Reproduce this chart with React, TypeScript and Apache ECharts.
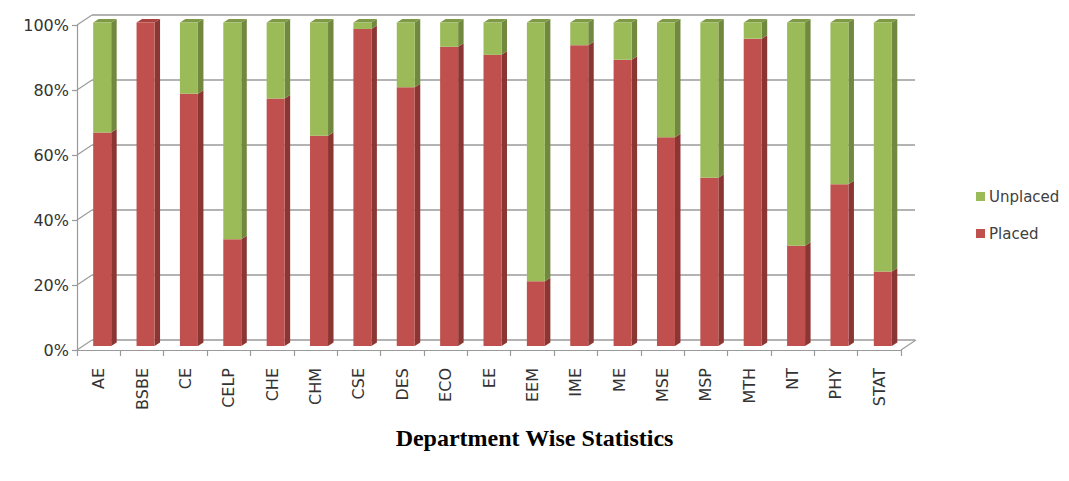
import React, { useEffect, useRef } from "react";
import * as echarts from "echarts";

// Departments along the x axis
const departments = [
  "AE", "BSBE", "CE", "CELP", "CHE", "CHM", "CSE", "DES", "ECO", "EE",
  "EEM", "IME", "ME", "MSE", "MSP", "MTH", "NT", "PHY", "STAT",
];

// Share of students placed, in percent
const placed = [66, 100, 78, 33, 76.5, 65, 98, 80, 92.5, 90, 20, 93, 88.5, 64.5, 52, 95, 31, 50, 23];

// Share of students not placed, in percent
const unplaced = placed.map((p) => 100 - p);

const yTicks = [0, 20, 40, 60, 80, 100];

// Layout of the pseudo-3D box
const BACK = { left: 92, top: 15, width: 823, height: 325 };
const FRONT = { left: 77, top: 25, width: 824, height: 325 };
const BARS = { left: 80.5, top: 22.5, width: 824, height: 323.5 };
const BAR_W = 18;
const DEPTH_X = 5.5;
const DEPTH_Y = 3.5;

const RED = "#C0504D";
const RED_SIDE = "#8C3633";
const RED_TOP = "#A8423F";
const GREEN = "#9BBB59";
const GREEN_SIDE = "#71893F";
const GREEN_TOP = "#7F9A47";
const GRID_GRAY = "#9a9a9a";

export default function App() {
  const ref = useRef<HTMLDivElement>(null);

  useEffect(() => {
    if (!ref.current) return;
    const chart = echarts.init(ref.current, null, { renderer: "svg" });

    const dx = BACK.left - FRONT.left;
    const dy = FRONT.top - BACK.top;
    // Diagonal connectors between the front axis plane and the back wall
    const connectors: any[] = yTicks.map((t) => {
      const y = FRONT.top + FRONT.height * (1 - t / 100);
      return {
        type: "line",
        shape: { x1: FRONT.left, y1: y, x2: FRONT.left + dx, y2: y - dy },
        style: { stroke: GRID_GRAY, lineWidth: 1.2 },
        silent: true,
      };
    });
    const fb = FRONT.top + FRONT.height;
    connectors.push({
      type: "line",
      shape: { x1: FRONT.left + FRONT.width, y1: fb, x2: FRONT.left + FRONT.width + dx, y2: fb - dy },
      style: { stroke: GRID_GRAY, lineWidth: 1.2 },
      silent: true,
    });

    const depthData = placed.map((p, i) => [i, p, unplaced[i]]);

    chart.setOption({
      animation: false,
      backgroundColor: "#ffffff",
      title: {
        text: "Department Wise Statistics",
        left: "center",
        top: 421,
        textStyle: {
          fontFamily: "Liberation Serif",
          fontWeight: "bold",
          fontSize: 24,
          color: "#000000",
        },
      },
      legend: {
        orient: "vertical",
        left: 971,
        top: 184,
        itemWidth: 9,
        itemHeight: 9,
        itemGap: 22,
        icon: "rect",
        data: ["Unplaced", "Placed"],
        textStyle: { fontFamily: "DejaVu Sans", fontSize: 15, color: "#404040", padding: [0, 0, 0, -1] },
      },
      grid: [
        { ...BACK, containLabel: false },
        { ...FRONT, containLabel: false },
        { ...BARS, containLabel: false },
      ],
      xAxis: [
        {
          gridIndex: 0,
          type: "category",
          data: departments,
          show: false,
        },
        {
          gridIndex: 1,
          type: "category",
          data: departments,
          axisLine: { show: true, lineStyle: { color: GRID_GRAY, width: 1.2 } },
          axisTick: { show: true, length: 6, lineStyle: { color: GRID_GRAY, width: 1.2 } },
          axisLabel: {
            rotate: 90,
            margin: 18,
            fontFamily: "DejaVu Sans",
            fontSize: 16,
            color: "#333333",
          },
          splitLine: { show: false },
        },
        {
          gridIndex: 2,
          type: "category",
          data: departments,
          show: false,
        },
      ],
      yAxis: [
        {
          gridIndex: 0,
          type: "value",
          min: 0,
          max: 100,
          interval: 20,
          axisLine: { show: false },
          axisTick: { show: false },
          axisLabel: { show: false },
          splitLine: { show: true, lineStyle: { color: GRID_GRAY, width: 1.5 } },
        },
        {
          gridIndex: 1,
          type: "value",
          min: 0,
          max: 100,
          interval: 20,
          axisLine: { show: true, lineStyle: { color: GRID_GRAY, width: 1.2 } },
          axisTick: { show: true, length: 5, lineStyle: { color: GRID_GRAY, width: 1.2 } },
          axisLabel: {
            formatter: "{value}%",
            margin: 8,
            fontFamily: "DejaVu Sans",
            fontSize: 16,
            color: "#333333",
          },
          splitLine: { show: false },
        },
        {
          gridIndex: 2,
          type: "value",
          min: 0,
          max: 100,
          show: false,
        },
      ],
      series: [
        {
          name: "Placed",
          type: "bar",
          stack: "share",
          xAxisIndex: 2,
          yAxisIndex: 2,
          barWidth: BAR_W,
          data: placed,
          itemStyle: { color: RED },
          z: 3,
        },
        {
          name: "Unplaced",
          type: "bar",
          stack: "share",
          xAxisIndex: 2,
          yAxisIndex: 2,
          barWidth: BAR_W,
          data: unplaced,
          itemStyle: { color: GREEN },
          z: 3,
        },
        {
          name: "depth",
          type: "custom",
          xAxisIndex: 2,
          yAxisIndex: 2,
          silent: true,
          z: 2,
          data: depthData,
          renderItem: (params: any, api: any) => {
            const i = api.value(0);
            const p = api.value(1);
            const base = api.coord([i, 0]);
            const mid = api.coord([i, p]);
            const top = api.coord([i, 100]);
            const xr = base[0] + BAR_W / 2;
            const xl = base[0] - BAR_W / 2;
            const side = (y0: number, y1: number, fill: string) => ({
              type: "polygon",
              shape: {
                points: [
                  [xr, y0],
                  [xr + DEPTH_X, y0 - DEPTH_Y],
                  [xr + DEPTH_X, y1 - DEPTH_Y],
                  [xr, y1],
                ],
              },
              style: { fill },
            });
            const children: any[] = [];
            if (p > 0) children.push(side(base[1], mid[1], RED_SIDE));
            if (p < 100) children.push(side(mid[1], top[1], GREEN_SIDE));
            children.push({
              type: "polygon",
              shape: {
                points: [
                  [xl, top[1]],
                  [xr, top[1]],
                  [xr + DEPTH_X, top[1] - DEPTH_Y],
                  [xl + DEPTH_X, top[1] - DEPTH_Y],
                ],
              },
              style: { fill: p >= 100 ? RED_TOP : GREEN_TOP },
            });
            return { type: "group", children };
          },
        },
      ],
      graphic: connectors,
    });

    return () => chart.dispose();
  }, []);

  return (
    <div
      ref={ref}
      style={{ position: "fixed", left: 0, top: 0, width: 1069, height: 481 }}
    />
  );
}
